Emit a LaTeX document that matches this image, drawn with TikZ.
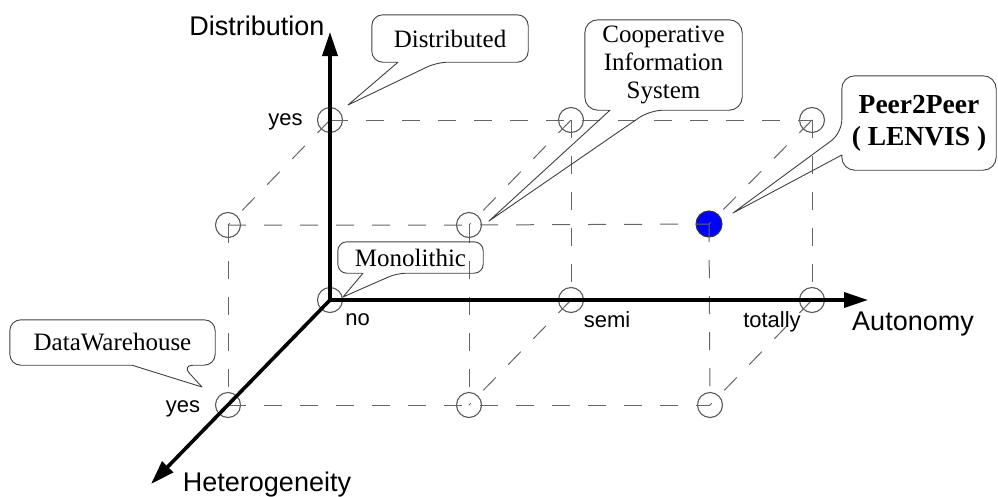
\documentclass[tikz,border=0pt]{standalone}
\usepackage{fontspec}
\setmainfont{Liberation Serif}
\newfontfamily\axisfont{Liberation Sans}
\usetikzlibrary{arrows.meta}
\begin{document}
\begin{tikzpicture}[x=1pt,y=-1pt,
  grid/.style={circle, draw=black!65, line width=1.1pt, minimum size=25pt, inner sep=0pt},
  peer/.style={grid, fill=blue, draw=black!80, minimum size=26pt},
  edge/.style={draw=black!60, line width=1pt, dash pattern=on 18pt off 18pt},
  axis/.style={line width=3.6pt, -{Triangle[length=24pt,width=15pt]}},
  axislabel/.style={font=\axisfont\fontsize{27}{30}\selectfont, anchor=base, inner sep=0pt},
  ticklabel/.style={font=\axisfont\fontsize{22}{24}\selectfont, anchor=base, inner sep=0pt},
  balloon/.style={inner sep=0pt, align=center, font=\fontsize{25}{28}\selectfont},
  outline/.style={draw=black!75, line width=0.9pt, line join=round, line cap=round}
]
\useasboundingbox (0,0) rectangle (998,496);

% grid points: n<autonomy><heterogeneity><distribution>
\node[grid] (n000) at (330,300) {};
\node[grid] (n100) at (571,300) {};
\node[grid] (n200) at (812,300) {};
\node[grid] (n001) at (330,120) {};
\node[grid] (n101) at (571,120) {};
\node[grid] (n201) at (812,120) {};
\node[grid] (n010) at (228,405) {};
\node[grid] (n110) at (469,405) {};
\node[grid] (n210) at (710,405) {};
\node[grid] (n011) at (228,225) {};
\node[grid] (n111) at (469,225) {};
\node[peer] (n211) at (709,224) {};

% cube edges
\draw[edge] (n001.center) -- (n101.center) -- (n201.center);
\draw[edge] (n011.center) -- (n111.center) -- (n211.center);
\draw[edge] (n010.center) -- (n110.center) -- (n210.center);
\draw[edge] (n101.center) -- (n100.center);
\draw[edge] (n201.center) -- (n200.center);
\draw[edge] (n011.center) -- (n010.center);
\draw[edge] (n111.center) -- (n110.center);
\draw[edge] (n211.center) -- (n210.center);
\draw[edge] (n001.center) -- (n011.center);
\draw[edge] (n101.center) -- (n111.center);
\draw[edge] (n201.center) -- (n211.center);
\draw[edge] (n100.center) -- (n110.center);
\draw[edge] (n200.center) -- (n210.center);

% axes
\coordinate (distTip) at (330,32);
\coordinate (autTip) at (868,300);
\coordinate (hetTip) at (151,484);
\draw[axis] (n000.center) -- (distTip);
\draw[axis] ([xshift=-2pt]n000.center) -- (autTip);
\draw[axis] (n000.center) -- (hetTip);

% axis and tick labels
\node[axislabel] (distLabel) at (257,35) {Distribution};
\node[ticklabel] (distYes) at (285.5,125) {yes};
\node[ticklabel] (autNo) at (357.5,325) {no};
\node[ticklabel] (autSemi) at (607,327) {semi};
\node[ticklabel] (autTotal) at (772,327) {totally};
\node[axislabel] (autLabel) at (913,330) {Autonomy};
\node[axislabel] (hetLabel) at (267,491) {Heterogeneity};
\node[ticklabel] (hetYes) at (183,412) {yes};

% balloons
\node[balloon, minimum width=156pt, minimum height=47pt] (distBox) at (450,38.5) {Distributed};
\node[balloon, minimum width=157pt, minimum height=90pt] (coopBox) at (663.5,65) {Cooperative\\Information\\System};
\node[balloon, font=\fontsize{27.5}{32}\selectfont\bfseries, minimum width=154pt, minimum height=94pt] (peerBox) at (919,123) {Peer2Peer\\( LENVIS )};
\node[balloon, minimum width=145pt, minimum height=31pt] (monoBox) at (410.5,257.5) {Monolithic};
\node[balloon, minimum width=205pt, minimum height=45pt] (dwBox) at (112.5,342.5) {DataWarehouse};

\coordinate (distPt) at (348,105);
\coordinate (coopPt) at (489,221);
\coordinate (peerPt) at (733,213);
\coordinate (monoPt) at (343,297);
\coordinate (dwPt) at (202,387);

\draw[outline, rounded corners=11pt] ([xshift=-52pt]distBox.south) -- (distBox.south west) -- (distBox.north west) -- (distBox.north east) -- (distBox.south east) -- ([xshift=-13pt]distBox.south) [sharp corners] -- (distPt) -- ([xshift=-52pt]distBox.south);
\draw[outline, rounded corners=13pt] ([xshift=-53.5pt]coopBox.south) -- (coopBox.south west) -- (coopBox.north west) -- (coopBox.north east) -- (coopBox.south east) -- ([xshift=-13.5pt]coopBox.south) [sharp corners] -- (coopPt) -- ([xshift=-53.5pt]coopBox.south);
\draw[outline, rounded corners=13pt] ([yshift=-32pt]peerBox.west) -- (peerBox.south west) -- (peerBox.south east) -- (peerBox.north east) -- (peerBox.north west) -- ([yshift=-10pt]peerBox.west) [sharp corners] -- (peerPt) -- ([yshift=-32pt]peerBox.west);
\draw[outline, rounded corners=9pt] ([xshift=-47.5pt]monoBox.south) -- (monoBox.south west) -- (monoBox.north west) -- (monoBox.north east) -- (monoBox.south east) -- ([xshift=-13.5pt]monoBox.south) [sharp corners] -- (monoPt) -- ([xshift=-47.5pt]monoBox.south);
\draw[outline, rounded corners=11pt] ([xshift=19.5pt]dwBox.south) -- (dwBox.south west) -- (dwBox.north west) -- (dwBox.north east) -- (dwBox.south east) -- ([xshift=69.5pt]dwBox.south) [sharp corners] -- (dwPt) -- ([xshift=19.5pt]dwBox.south);
\end{tikzpicture}
\end{document}
